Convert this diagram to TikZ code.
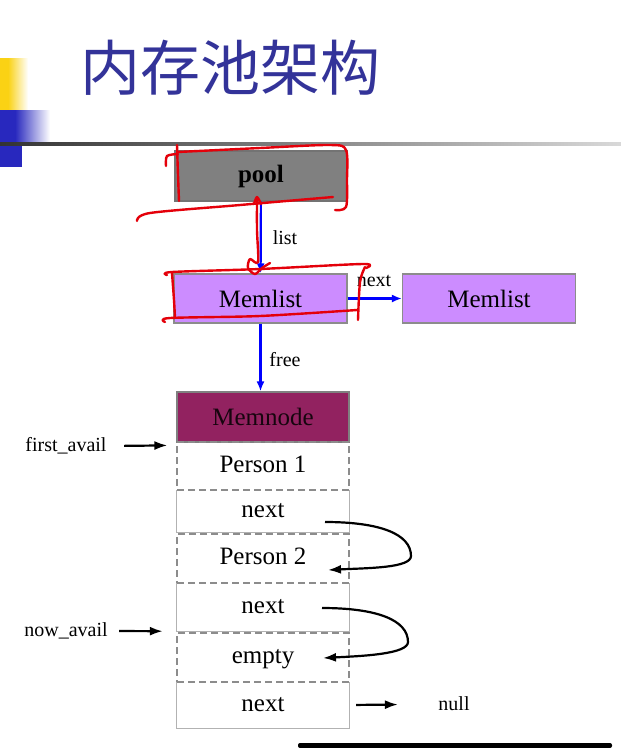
\documentclass[tikz,border=0pt]{standalone}
\usepackage{fontspec}
\setmainfont{Liberation Serif}
\newfontfamily\cjkfont{Noto Sans CJK SC}
\usepackage{tikz}
\usetikzlibrary{positioning, arrows.meta, calc}
\definecolor{titleblue}{RGB}{51, 51, 153}
\definecolor{poolgray}{RGB}{128, 128, 128}
\definecolor{listviolet}{RGB}{204, 140, 255}
\definecolor{nodemaroon}{RGB}{146, 34, 96}
\definecolor{barblue}{RGB}{40, 40, 190}
\definecolor{baryellow}{RGB}{250, 210, 20}
\definecolor{penred}{RGB}{228, 0, 10}

\begin{document}
\begin{tikzpicture}[x=1pt, y=-1pt,
  poolbox/.style={rectangle, draw=black!55, fill=poolgray, line width=1.2pt,
    minimum width=172pt, minimum height=50pt,
    font=\fontsize{25}{30}\selectfont\bfseries},
  listbox/.style={rectangle, draw=black!45, fill=listviolet, line width=1.2pt,
    minimum width=173pt, minimum height=49pt,
    font=\fontsize{25}{30}\selectfont},
  headbox/.style={rectangle, draw=black!50, fill=nodemaroon, line width=1.2pt,
    text=black!85!nodemaroon, minimum width=172pt, minimum height=50pt,
    font=\fontsize{25}{30}\selectfont},
  datacell/.style={rectangle, draw=black!45, line width=1.2pt,
    dash pattern=on 7pt off 4pt, minimum width=172pt,
    text height=17pt, text depth=5pt, font=\fontsize{25}{30}\selectfont},
  linkcell/.style={rectangle, minimum width=172pt,
    text height=17pt, text depth=5pt, font=\fontsize{25}{30}\selectfont},
  tag/.style={font=\fontsize{20}{24}\selectfont},
  blink/.style={draw=blue, line width=2.2pt, -{Latex[length=10pt, width=8pt]}},
  ptr/.style={draw=black, line width=2.2pt, -{Latex[length=13pt, width=9pt]}},
  redpen/.style={draw=penred, line width=2.4pt, line cap=round, line join=round}
]
  \fill[white] (0,0) rectangle (621,748);
  \useasboundingbox (0,0) rectangle (621,748);

  \fill[baryellow] (0,58) rectangle (8,110);
  \shade[left color=baryellow, right color=white] (8,58) rectangle (28,110);
  \fill[barblue] (0,110) rectangle (15,143);
  \shade[left color=barblue, right color=white] (15,110) rectangle (50,143);
  \fill[barblue] (0,143) rectangle (22,167);
  \shade[left color=black!80, right color=black!15] (0,142) rectangle (621,145.5);

  \node[anchor=west, inner sep=0pt, text=titleblue,
    font=\cjkfont\fontsize{60}{72}\selectfont] (title) at (80,68) {内存池架构};

  \node[poolbox] (pool) at (261,176) {pool};
  \node[listbox] (ml1) at (260.5,298.5) {Memlist};
  \node[listbox] (ml2) at (489,298.5) {Memlist};

  \node[headbox] (mn) at (263,417) {Memnode};
  \node[datacell, minimum height=48pt] (p1) at (263,466) {Person 1};
  \node[linkcell, minimum height=42pt] (n1) at (263,511) {next};
  \node[datacell, minimum height=49pt] (p2) at (263,558.5) {Person 2};
  \node[linkcell, minimum height=48pt] (n2) at (263,607) {next};
  \node[datacell, minimum height=49pt] (em) at (263,657.5) {empty};
  \node[linkcell, minimum height=46pt] (n3) at (263,705) {next};
  \foreach \c in {n1,n2,n3}
    \draw[black!30, line width=1.2pt] (\c.north west) |- (\c.south east) -- (\c.north east);

  \node[tag] (lst) at (285,238) {list};
  \node[tag] (nxt) at (374,281) {next};
  \node[tag] (fre) at (285,360) {free};
  \node[tag] (fa) at (66,446) {first\_avail};
  \node[tag] (na) at (66,631) {now\_avail};
  \node[tag] (nul) at (454,704) {null};

  \draw[blink] (pool) -- (ml1);
  \draw[blink] (ml1) -- (ml2);
  \draw[blink] (ml1.south) -- (ml1.south |- mn.north);

  \coordinate (fa-tip) at ($(p1.north west)+(-9,4)$);
  \coordinate (na-tip) at ($(n2.south west)+(-14,0)$);
  \draw[ptr, shorten <=14pt] (fa.east) -- (fa-tip);
  \draw[ptr, shorten <=8pt] (na.east) -- (na-tip);
  \draw[ptr, shorten <=7pt, shorten >=37pt] (n3.east) -- (nul);

  \draw[ptr] ($(n1.center)+(62,11)$) .. controls +(55,0) and +(0,-22) .. (411,556)
    .. controls +(0,12) and +(40,-2) .. ($(p2.center)+(65,11.5)$);
  \draw[ptr] ($(n2.center)+(59,1)$) .. controls +(55,0) and +(0,-22) .. (408,642)
    .. controls +(0,12) and +(40,-2) .. ($(em.center)+(60,0.5)$);

  \draw[redpen] plot[smooth] coordinates {(166,166) (167,156) (178,154)};
  \draw[redpen] plot[smooth] coordinates {(177,145) (178,175) (179,201)};
  \draw[redpen] plot[smooth] coordinates {(178,152) (260,148) (330,145) (346,150) (347,180) (346,207) (335,210)};
  \draw[redpen] plot[smooth] coordinates {(137,221) (150,213) (240,205) (333,197)};
  \draw[redpen] plot[smooth] coordinates {(254,204) (257,197) (261,204)};
  \draw[redpen] plot[smooth] coordinates {(257,199) (257,230) (258,262) (250,259) (248,268) (255,274) (262,268) (270,263)};
  \draw[redpen] plot[smooth] coordinates {(167,275) (172,272) (260,269) (363,264) (366,268)};
  \draw[redpen] plot[smooth] coordinates {(365,267) (360,282) (358,320)};
  \draw[redpen] plot[smooth] coordinates {(172,273) (174,300) (175,318)};
  \draw[redpen] plot[smooth] coordinates {(165,322) (170,318) (260,316) (357,310)};

  \fill[black, rounded corners=2pt] (298,743) rectangle (612,748);
\end{tikzpicture}
\end{document}
